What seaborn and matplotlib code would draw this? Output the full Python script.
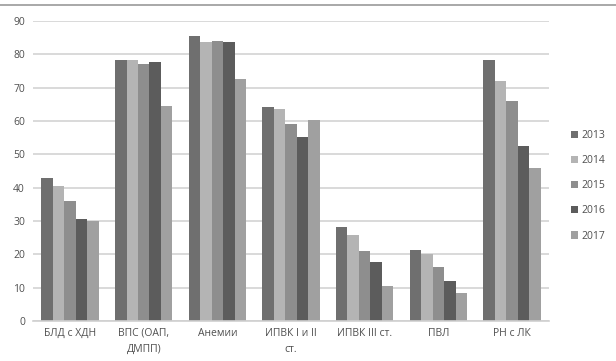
import pandas as pd
import matplotlib
matplotlib.use("Agg")
import matplotlib.pyplot as plt
from matplotlib.lines import Line2D
import seaborn as sns

# データ
categories = ["БЛД с ХДН", "ВПС (ОАП,\nДМПП)", "Анемии", "ИПВК I и II\nст.",
              "ИПВК III ст.", "ПВЛ", "РН с ЛК"]
years = ["2013", "2014", "2015", "2016", "2017"]
v2013 = [42.8, 78.3, 85.6, 64.1, 28.3, 21.2, 78.3]
v2014 = [40.5, 78.3, 83.8, 63.5, 25.8, 20.0, 72.0]
v2015 = [36.1, 77.0, 84.0, 59.1, 21.0, 16.1, 66.0]
v2016 = [30.6, 77.7, 83.8, 55.1, 17.6, 12.0, 52.6]
v2017 = [30.0, 64.5, 72.7, 60.3, 10.4, 8.3, 46.0]
colors = ["#6f6f6f", "#b4b4b4", "#8e8e8e", "#5c5c5c", "#a0a0a0"]

rows = []
for yr, vals in zip(years, [v2013, v2014, v2015, v2016, v2017]):
    for c, v in zip(categories, vals):
        rows.append({"cat": c, "year": yr, "val": v})
df = pd.DataFrame(rows)

sns.set_style("white")
plt.rcParams['font.family'] = ['Open Sans', 'DejaVu Sans']

fig = plt.figure(figsize=(6.16, 3.61), dpi=100)
ax = fig.add_axes([0.054, 0.111, 0.837, 0.831])

sns.barplot(data=df, x="cat", y="val", hue="year", palette=colors,
            order=categories, hue_order=years, width=0.78,
            saturation=1, linewidth=0, ax=ax)

ax.set_ylim(0, 90)
ax.set_yticks(range(0, 91, 10))
ax.set_xlim(-0.5, len(categories) - 0.5)
ax.yaxis.grid(True, color="#d9d9d9", linewidth=1.4)
ax.set_axisbelow(True)
for s in ["top", "right", "left"]:
    ax.spines[s].set_visible(False)
ax.spines["bottom"].set_color("#d0d0d0")
ax.spines["bottom"].set_linewidth(1.2)
ax.set_xlabel("")
ax.set_ylabel("")
ax.tick_params(axis="both", length=0, labelsize=7.5, colors="#505050", pad=6)
ax.tick_params(axis="x", pad=5)
for lab in ax.get_xticklabels():
    lab.set_linespacing(1.6)

leg = ax.legend(loc="center left", bbox_to_anchor=(1.025, 0.45), frameon=False,
                fontsize=7.5, labelcolor="#505050", handlelength=0.7,
                handleheight=0.7, handletextpad=0.3, labelspacing=1.35)

fig.add_artist(Line2D([0, 1], [0.986, 0.986], color="#9a9a9a", linewidth=1.2))

fig.savefig("out.png", dpi=100)
